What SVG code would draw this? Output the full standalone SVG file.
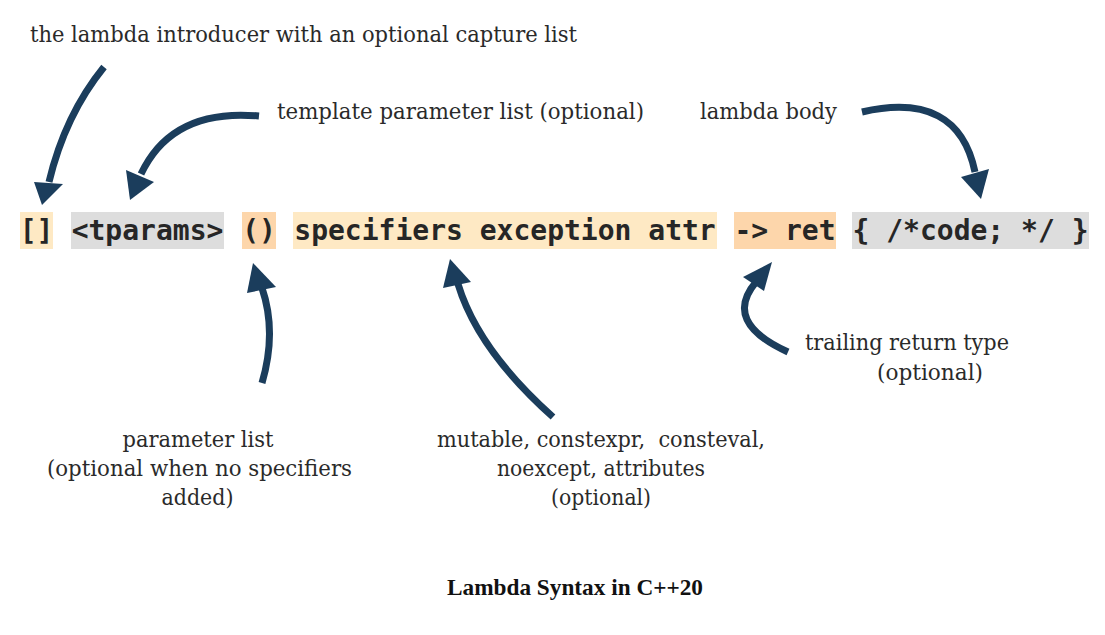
<svg xmlns="http://www.w3.org/2000/svg" width="1105" height="635" viewBox="0 0 1105 635">
<style>
.bg{fill:#ffffff}
.code{font-family:"DejaVu Sans Mono","Liberation Mono",monospace;font-weight:bold;font-size:28px;fill:#262626;text-anchor:middle}
.lbl{font-family:"DejaVu Serif","Liberation Serif",serif;font-size:23px;fill:#2a2a2a;white-space:pre}
.mid{text-anchor:middle}
.cap{font-family:"Liberation Serif","DejaVu Serif",serif;font-weight:bold;font-size:23px;fill:#111111;text-anchor:middle}
.cream{fill:#fee9c4}
.peach{fill:#fdd6ab}
.gray{fill:#dddddd}
.shaft{fill:none;stroke:#1b3d5c;stroke-width:7;stroke-linecap:butt}
.head{fill:#1b3d5c}
</style>
<rect class="bg" x="0" y="0" width="1105" height="635"/>

<g id="node-introducer">
  <rect class="cream" x="20" y="212" width="33" height="37"/>
  <text class="code" x="36.5" y="240">[]</text>
</g>
<g id="node-tparams">
  <rect class="gray" x="71" y="212" width="153" height="37"/>
  <text class="code" x="147.5" y="240">&lt;tparams&gt;</text>
</g>
<g id="node-params">
  <rect class="peach" x="242" y="212" width="34" height="37"/>
  <text class="code" x="259" y="240">()</text>
</g>
<g id="node-specifiers">
  <rect class="cream" x="293" y="212" width="424" height="37"/>
  <text class="code" x="505" y="240">specifiers exception attr</text>
</g>
<g id="node-ret">
  <rect class="peach" x="734" y="212" width="102" height="37"/>
  <text class="code" x="785" y="240">-&gt; ret</text>
</g>
<g id="node-body">
  <rect class="gray" x="852" y="212" width="237" height="37"/>
  <text class="code" x="970.5" y="240">{ /*code; */ }</text>
</g>

<g id="label-introducer">
  <text class="lbl" x="30" y="42" textLength="547" lengthAdjust="spacingAndGlyphs">the lambda introducer with an optional capture list</text>
</g>
<g id="label-template">
  <text class="lbl" x="277" y="119" textLength="367" lengthAdjust="spacingAndGlyphs">template parameter list (optional)</text>
</g>
<g id="label-body">
  <text class="lbl" x="700" y="119" textLength="137" lengthAdjust="spacingAndGlyphs">lambda body</text>
</g>
<g id="label-trailing">
  <text class="lbl" x="805" y="350" textLength="204" lengthAdjust="spacingAndGlyphs">trailing return type</text>
  <text class="lbl" x="877" y="380" textLength="106" lengthAdjust="spacingAndGlyphs">(optional)</text>
</g>
<g id="label-params">
  <text class="lbl mid" x="198" y="447" textLength="151" lengthAdjust="spacingAndGlyphs">parameter list</text>
  <text class="lbl mid" x="199.5" y="476" textLength="305" lengthAdjust="spacingAndGlyphs">(optional when no specifiers</text>
  <text class="lbl mid" x="197.5" y="505" textLength="72" lengthAdjust="spacingAndGlyphs">added)</text>
</g>
<g id="label-specifiers">
  <text class="lbl mid" x="601" y="447" textLength="328" lengthAdjust="spacingAndGlyphs">mutable, constexpr,  consteval,</text>
  <text class="lbl mid" x="601" y="476" textLength="208" lengthAdjust="spacingAndGlyphs">noexcept, attributes</text>
  <text class="lbl mid" x="601" y="505" textLength="100" lengthAdjust="spacingAndGlyphs">(optional)</text>
</g>

<g id="connectors">
  <path class="shaft" d="M104,67 Q65,115 49,182"/>
  <polygon class="head" points="42,205 34,182 63,184"/>

  <path class="shaft" d="M259,116 Q172,108 141,174"/>
  <polygon class="head" points="130,200 126,170 154,182"/>

  <path class="shaft" d="M862,112 Q958,90 975,172"/>
  <polygon class="head" points="981,199 961,177 989,169"/>

  <path class="shaft" d="M262,383 Q277,332 262,288"/>
  <polygon class="head" points="253,263 247,293 276,287"/>

  <path class="shaft" d="M553,417 Q478,350 458,284"/>
  <polygon class="head" points="450,259 443,288 471,282"/>

  <path class="shaft" d="M788,352 Q722,322 756,282"/>
  <polygon class="head" points="772,262 743,277 764,291"/>
</g>

<g id="caption">
  <text class="cap" x="575" y="595" textLength="256" lengthAdjust="spacingAndGlyphs">Lambda Syntax in C++20</text>
</g>
</svg>
